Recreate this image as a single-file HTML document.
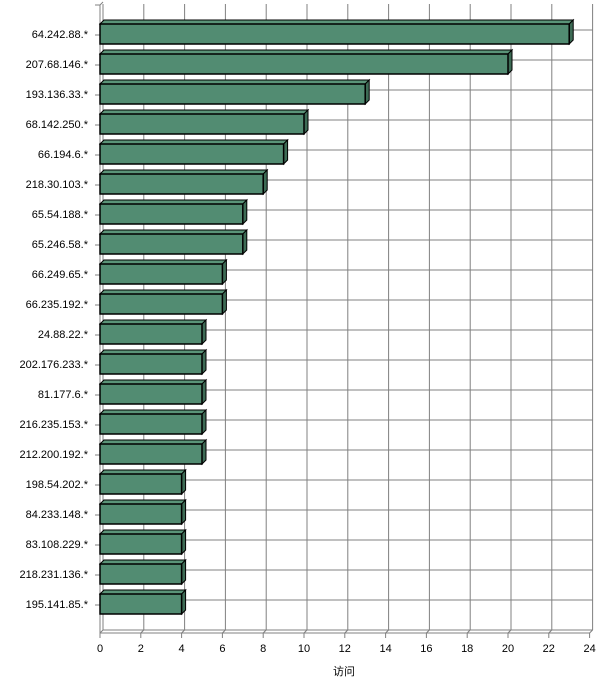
<!DOCTYPE html>
<html><head><meta charset="utf-8"><style>
body{margin:0;background:#fff}
svg{display:block}
text{font-family:"Liberation Sans","Noto Sans CJK SC",sans-serif;font-size:11px;fill:#000}
</style></head><body>
<svg id="c" width="600" height="694"></svg>
<script>
const categories=["64.242.88.*","207.68.146.*","193.136.33.*","68.142.250.*","66.194.6.*","218.30.103.*","65.54.188.*","65.246.58.*","66.249.65.*","66.235.192.*","24.88.22.*","202.176.233.*","81.177.6.*","216.235.153.*","212.200.192.*","198.54.202.*","84.233.148.*","83.108.229.*","218.231.136.*","195.141.85.*"];
const values=[23,20,13,10,9,8,7,7,6,6,5,5,5,5,5,4,4,4,4,4];
const xTicks=[0,2,4,6,8,10,12,14,16,18,20,22,24];
const NS="http://www.w3.org/2000/svg";
const svg=document.getElementById('c');
const X0=100,SC=20.4,D=3,TOP=4,BOT=633,ROW=30,Y0=24,BH=20;
const x=v=>X0+v*SC;
const yc=i=>Y0+i*ROW;
function mk(t,a,p){const e=document.createElementNS(NS,t);for(const k in a)e.setAttribute(k,a[k]);(p||svg).appendChild(e);return e;}
const grid=mk('g',{});


xTicks.forEach(t=>{mk('line',{x1:x(t)+D,y1:TOP,x2:x(t)+D,y2:BOT-D,stroke:'#808080'},grid);});
for(let i=0;i<=categories.length;i++){const yy=TOP+2+i*ROW;if(yy<BOT-D)mk('line',{x1:X0+D,y1:yy+24,x2:x(24)+D,y2:yy+24,stroke:'#808080'},grid);}
mk('line',{x1:X0+D,y1:BOT-D,x2:x(24)+D,y2:BOT-D,stroke:'#808080'},grid);
mk('line',{x1:X0+D,y1:TOP,x2:X0+D,y2:BOT-D,stroke:'#808080'},grid);
xTicks.forEach(t=>{mk('line',{x1:x(t),y1:BOT,x2:x(t)+D,y2:BOT-D,stroke:'#808080'},grid);});
const ax=mk('g',{});


mk('line',{x1:X0,y1:TOP+1,x2:X0,y2:BOT,stroke:'#808080'},ax);
mk('line',{x1:X0,y1:BOT,x2:x(24),y2:BOT,stroke:'#808080'},ax);
mk('line',{x1:X0,y1:TOP+1,x2:X0+D,y2:TOP-2,stroke:'#808080'},ax);
xTicks.forEach(t=>{mk('line',{x1:x(t),y1:BOT,x2:x(t),y2:BOT+5,stroke:'#808080'},ax);
const tx=mk('text',{x:x(t),y:BOT+19,'text-anchor':'middle'},ax);tx.textContent=t;

});
for(let i=0;i<=categories.length;i++){mk('line',{x1:X0-5,y1:TOP+i*ROW+1,x2:X0,y2:TOP+i*ROW+1,stroke:'#808080'},ax);}
categories.forEach((c,i)=>{
const g=mk('g',{});


const y=yc(i),w=x(values[i])-X0,xr=x(values[i]);
mk('polygon',{points:`${X0},${y} ${X0+D+1},${y-D-1} ${xr+D+1},${y-D-1} ${xr},${y}`,fill:'#5a9478',stroke:'#000','stroke-width':1},g);
mk('polygon',{points:`${xr},${y} ${xr+D+1},${y-D-1} ${xr+D+1},${y+BH-D-1} ${xr},${y+BH}`,fill:'#3d6b55',stroke:'#000','stroke-width':1},g);
mk('rect',{x:X0,y:y,width:w,height:BH,fill:'#528c72',stroke:'#000','stroke-width':1.5},g);
const l=mk('text',{x:88,y:y+14,'text-anchor':'end'});l.textContent=c;


});
const tt=mk('text',{x:344,y:675,'text-anchor':'middle'});tt.textContent='访问';


</script>
</body></html>
